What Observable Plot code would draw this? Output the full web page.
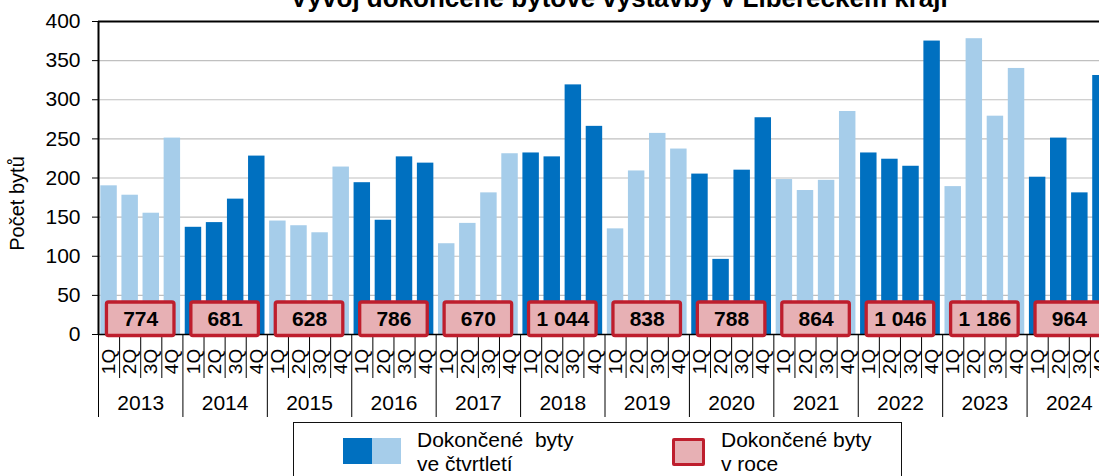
<!DOCTYPE html>
<html>
<head>
<meta charset="utf-8">
<script src="https://cdn.jsdelivr.net/npm/d3@7"></script>
<script src="https://cdn.jsdelivr.net/npm/@observablehq/plot@0.6"></script>
<style>
  html, body { margin: 0; padding: 0; background: #fff; overflow: hidden; }
  #wrap { position: relative; width: 1099px; height: 476px; overflow: hidden;
          font-family: "Liberation Sans", Arial, sans-serif; color: #000; background: #fff; }
  #title { position: absolute; left: 0; width: 1238px; top: -15px; text-align: center;
           font-weight: bold; font-size: 26px; line-height: 26px; white-space: nowrap; }
  #chart { position: absolute; left: 0; top: 0; width: 1120px; }
  #chart svg { max-width: none !important; }
  #legend { position: absolute; left: 293px; top: 422px; width: 609px; height: 90px;
            box-sizing: border-box; border: 1px solid #111; background: #fff; }
  .sw { position: absolute; box-sizing: border-box; }
  .lt { position: absolute; font-size: 21px; line-height: 23.7px; white-space: pre; }
</style>
</head>
<body>
<div id="wrap">
  <div id="chart"></div>
  <div id="title">Vývoj dokončené bytové výstavby v Libereckém kraji</div>
  <div id="legend">
    <div class="sw" style="left:49px;top:15px;width:29px;height:26px;background:#0070c0"></div>
    <div class="sw" style="left:78px;top:15px;width:29px;height:26px;background:#a6cdea"></div>
    <div class="lt" style="left:123px;top:5px">Dokončené  byty
ve čtvrtletí</div>
    <div class="sw" style="left:378px;top:15px;width:33px;height:28px;background:#e7b0b4;border:3px solid #be1e2d;border-radius:2px"></div>
    <div class="lt" style="left:427px;top:5px">Dokončené byty
v roce</div>
  </div>
</div>
<script>
// ---- data ----
const years = [2013, 2014, 2015, 2016, 2017, 2018, 2019, 2020, 2021, 2022, 2023, 2024];
const quarterLabels = ["1Q", "2Q", "3Q", "4Q"];
// completed dwellings per quarter (1Q..4Q for each year, in order)
const quarterValues = [
  190, 178, 155, 251,   // 2013
  137, 143, 173, 228,   // 2014
  145, 139, 130, 214,   // 2015
  194, 146, 227, 219,   // 2016
  116, 142, 181, 231,   // 2017
  232, 227, 319, 266,   // 2018
  135, 209, 257, 237,   // 2019
  205,  96, 210, 277,   // 2020
  198, 184, 197, 285,   // 2021
  232, 224, 215, 375,   // 2022
  189, 378, 279, 340,   // 2023
  201, 251, 181, 331    // 2024
];
// completed dwellings per year (labels in the boxes)
const yearTotals = [774, 681, 628, 786, 670, 1044, 838, 788, 864, 1046, 1186, 964];
const yTicks = [0, 50, 100, 150, 200, 250, 300, 350, 400];

// ---- layout ----
const W = 1120, H = 420, mL = 98, mR = 9, mT = 21, mB = 86;
const plotH = H - mT - mB;
const px = p => p * 400 / plotH;   // pixel offset -> y units
const dark = "#0070c0", light = "#a6cdea";

const bars = quarterValues.map((v, i) => ({
  i, v, q: quarterLabels[i % 4], year: years[Math.floor(i / 4)],
  fill: Math.floor(i / 4) % 2 === 0 ? light : dark
}));
const yearRows = years.map((y, k) => ({ k, year: y, total: yearTotals[k] }));
const fmt = d3.formatLocale({ decimal: ",", thousands: "\u00a0", grouping: [3], currency: ["", ""] }).format(",d");
const boundaries = d3.range(0, quarterLabels.length * years.length + 1);

const chart = Plot.plot({
  width: W, height: H,
  marginLeft: mL, marginRight: mR, marginTop: mT, marginBottom: mB,
  style: { fontFamily: "'Liberation Sans', Arial, sans-serif", fontSize: "21px", color: "#000", background: "transparent", overflow: "visible", maxWidth: "none" },
  x: { domain: [0, quarterValues.length], axis: null },
  y: { domain: [0, 400], ticks: 8, tickSize: 6, tickPadding: 12, label: null, tickFormat: d3.format("d") },
  color: { type: "identity" },
  marks: [
    Plot.ruleY(yTicks.filter(t => t > 0 && t < 400), { stroke: "#c0c0c0", strokeWidth: 1.2 }),
    Plot.rect(bars, { x1: d => d.i + 0.11, x2: d => d.i + 0.89, y1: 0, y2: "v", fill: "fill" }),
    Plot.ruleY([400], { stroke: "#000", strokeWidth: 2 }),
    Plot.ruleX([0], { stroke: "#000", strokeWidth: 2 }),
    Plot.ruleY([0], { stroke: "#000", strokeWidth: 1.5 }),
    // quarter separators and year separators below the axis
    Plot.ruleX(boundaries.filter(b => b % 4 !== 0), { y1: 0, y2: px(-44), stroke: "#000", strokeWidth: 1 }),
    Plot.ruleX(boundaries.filter(b => b % 4 === 0), { y1: 0, y2: px(-83), stroke: "#000", strokeWidth: 1 }),
    // annual total boxes
    Plot.rect(yearRows, { x1: d => d.k * 4 + 0.4, x2: d => d.k * 4 + 3.6, y1: px(-1.5), y2: px(32),
      fill: "#e7b0b4", stroke: "#be1e2d", strokeWidth: 3.3, rx: 2 }),
    Plot.text(yearRows, { x: d => d.k * 4 + 2, y: 0, dy: -15, text: d => fmt(d.total),
      fontSize: 21, fontWeight: "bold", fill: "#000" }),
    // quarter labels
    Plot.text(bars, { x: d => d.i + 0.5, y: 0, dy: 27, text: "q", rotate: -90, fontSize: 19, fill: "#000" }),
    // year labels
    Plot.text(yearRows, { x: d => d.k * 4 + 2, y: 0, dy: 68.5, text: d => String(d.year), fontSize: 21, fill: "#000" }),
    // y axis title
    Plot.text(["Počet bytů"], { frameAnchor: "left", textAnchor: "middle", dx: -80.5, dy: 25.5, rotate: -90, fontSize: 20, fill: "#000" })
  ]
});
chart.style.maxWidth = "none";
document.getElementById("chart").appendChild(chart);
</script>
</body>
</html>
